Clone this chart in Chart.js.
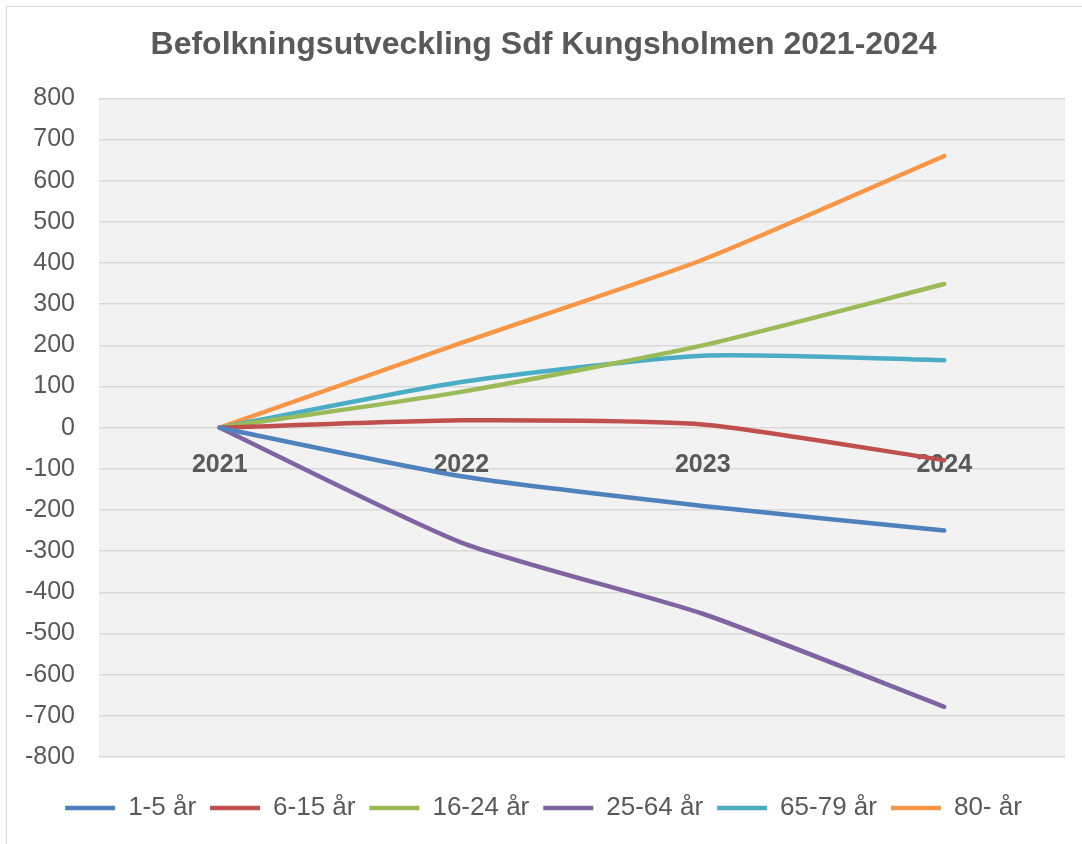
<!DOCTYPE html>
<html>
<head>
<meta charset="utf-8">
<script src="https://cdn.jsdelivr.net/npm/chart.js@4.4.1/dist/chart.umd.min.js"></script>
<style>
  html, body { margin: 0; padding: 0; background: #ffffff; overflow: hidden; }
  #wrap { position: relative; width: 1082px; height: 844px; }
  #frame { position: absolute; left: 6px; top: 6px; width: 1200px; height: 1000px; border: 1px solid #d9d9d9; pointer-events: none; }
  canvas { position: absolute; left: 0; top: 0; }
</style>
</head>
<body>
<div id="wrap">
  <canvas id="c" width="1082" height="844"></canvas>
  <div id="frame"></div>
</div>
<script>
const titleText = 'Befolkningsutveckling Sdf Kungsholmen 2021-2024';
const years = ['2021', '2022', '2023', '2024'];
const seriesNames = ['1-5 år', '6-15 år', '16-24 år', '25-64 år', '65-79 år', '80- år'];
const age1_5 = [0, -118, -190, -250];
const age6_15 = [0, 18, 8, -79];
const age16_24 = [0, 87, 200, 349];
const age25_64 = [0, -279, -452, -678];
const age65_79 = [0, 111, 175, 164];
const age80 = [0, 206, 408, 660];
const seriesColors = ['#4f81bd', '#c0504d', '#9bbb59', '#8064a2', '#4bacc6', '#f79646'];
const yMin = -800, yMax = 800, yStep = 100;

const allSeries = [age1_5, age6_15, age16_24, age25_64, age65_79, age80];

const plotBg = {
  id: 'plotBg',
  beforeDraw(chart) {
    const a = chart.chartArea, ctx = chart.ctx;
    ctx.save();
    ctx.fillStyle = '#f2f2f2';
    ctx.fillRect(a.left, a.top, a.right - a.left, a.bottom - a.top);
    ctx.restore();
  }
};

new Chart(document.getElementById('c'), {
  type: 'line',
  data: {
    labels: years,
    datasets: allSeries.map((d, i) => ({
      label: seriesNames[i],
      data: d,
      borderColor: seriesColors[i],
      backgroundColor: seriesColors[i],
      borderWidth: 4.5,
      borderCapStyle: 'round',
      borderJoinStyle: 'round',
      pointRadius: 0,
      pointStyle: 'line',
      tension: 0.2,
      fill: false
    }))
  },
  options: {
    responsive: false,
    animation: false,
    devicePixelRatio: 1,
    layout: { padding: { left: 22, right: 17, top: 0, bottom: 13 } },
    plugins: {
      title: {
        display: true,
        text: titleText,
        color: '#595959',
        font: { family: '"Liberation Sans", Arial, sans-serif', size: 32, weight: 'bold' },
        padding: { top: 26, bottom: 34 }
      },
      legend: {
        display: true,
        position: 'bottom',
        title: { display: true, text: '', font: { size: 20 }, padding: { top: 0, bottom: 0 } },
        labels: {
          usePointStyle: true,
          pointStyle: 'line',
          pointStyleWidth: 50,
          padding: 14,
          color: '#595959',
          font: { family: '"Liberation Sans", Arial, sans-serif', size: 26 }
        }
      },
      tooltip: { enabled: false }
    },
    scales: {
      x: {
        type: 'category',
        position: { y: 0 },
        offset: true,
        z: 1,
        grid: { display: false, drawTicks: false },
        border: { display: false },
        ticks: {
          padding: 22,
          color: '#595959',
          maxRotation: 0,
          font: { family: '"Liberation Sans", Arial, sans-serif', size: 25, weight: 'bold' }
        }
      },
      y: {
        min: yMin,
        max: yMax,
        afterFit(scale) { scale.width = 77; },
        grid: { color: '#d9d9d9', lineWidth: 1.5, drawTicks: false },
        border: { display: false },
        ticks: {
          stepSize: yStep,
          padding: 24,
          color: '#595959',
          font: { family: '"Liberation Sans", Arial, sans-serif', size: 25 }
        }
      }
    }
  },
  plugins: [plotBg]
});
</script>
</body>
</html>
